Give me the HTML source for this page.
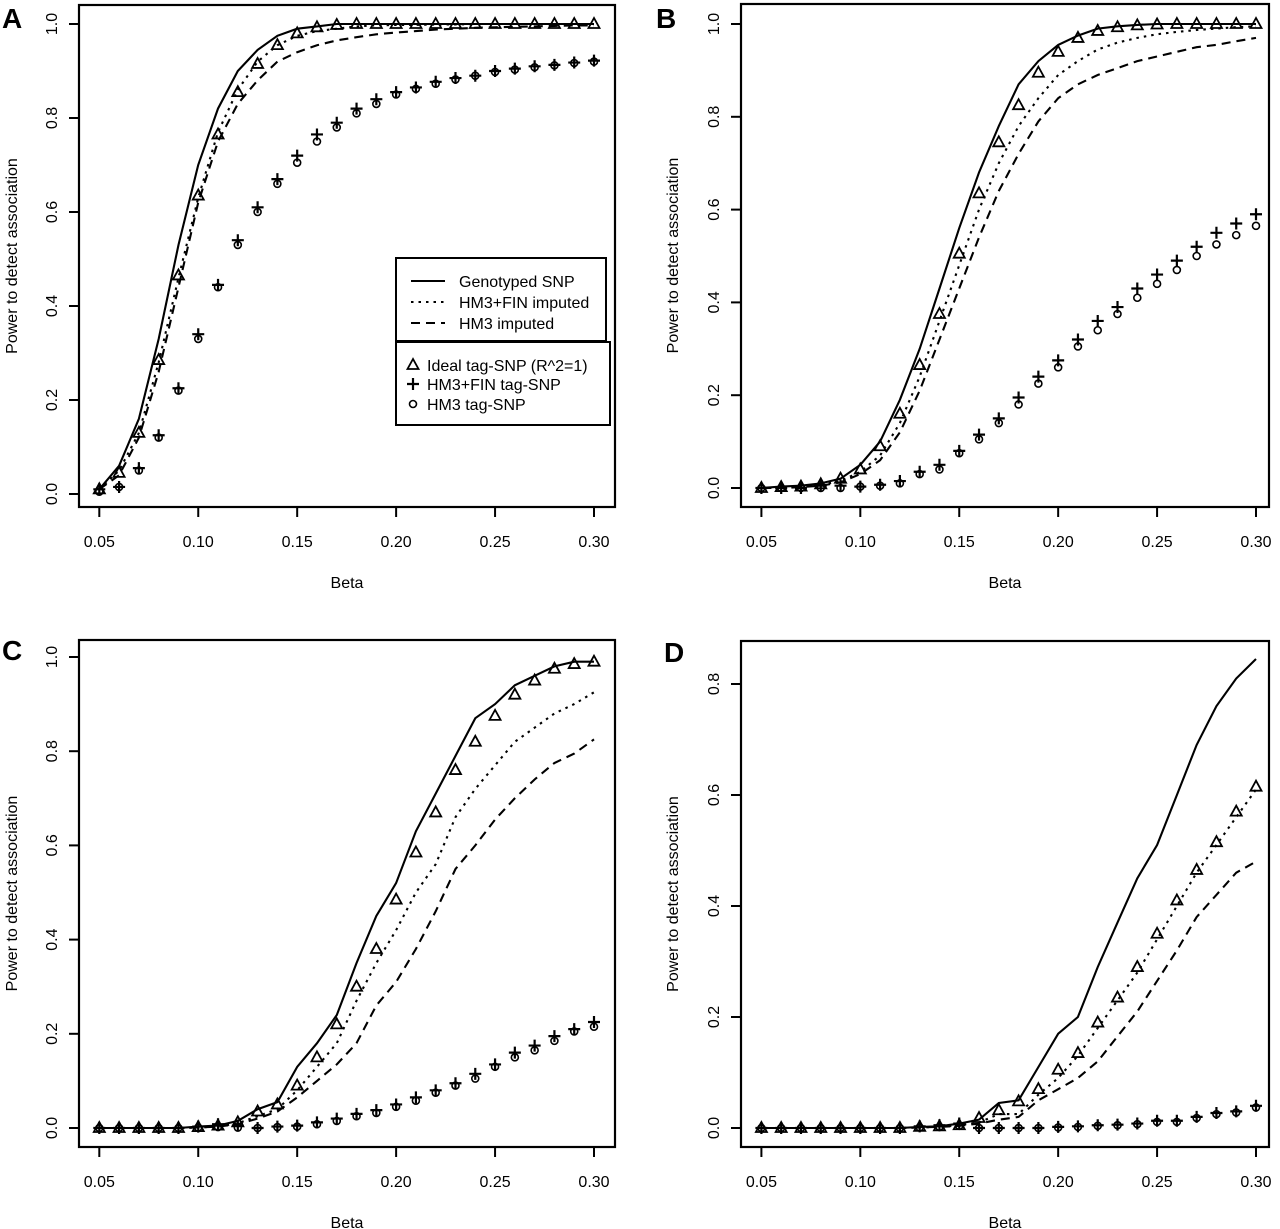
<!DOCTYPE html>
<html><head><meta charset="utf-8"><style>
html,body{margin:0;padding:0;background:#fff;}
svg{display:block;font-family:"Liberation Sans",Arial,sans-serif;}
</style></head><body>
<svg id="fig" width="1280" height="1229" viewBox="0 0 1280 1229" xmlns="http://www.w3.org/2000/svg"></svg>
<script>
const betas = [0.05,0.06,0.07,0.08,0.09,0.10,0.11,0.12,0.13,0.14,0.15,0.16,0.17,0.18,0.19,0.20,0.21,0.22,0.23,0.24,0.25,0.26,0.27,0.28,0.29,0.30];
const xTickLabels = ["0.05","0.10","0.15","0.20","0.25","0.30"];
const xTickValues = [0.05,0.10,0.15,0.20,0.25,0.30];
const yTicksFull = [0,0.2,0.4,0.6,0.8,1.0];
const yTickLabelsFull = ["0.0","0.2","0.4","0.6","0.8","1.0"];
const yTicksD = [0,0.2,0.4,0.6,0.8];
const yTickLabelsD = ["0.0","0.2","0.4","0.6","0.8"];

// Panel A
const aGenotyped = [0.01,0.06,0.16,0.33,0.53,0.70,0.82,0.90,0.945,0.975,0.99,0.995,1,1,1,1,1,1,1,1,1,1,1,1,1,1];
const aFinImputed = [0.01,0.05,0.13,0.28,0.46,0.63,0.77,0.86,0.92,0.955,0.975,0.985,0.99,0.995,0.997,0.998,0.998,0.999,0.999,1,1,1,1,1,1,1];
const aHm3Imputed = [0.01,0.04,0.12,0.26,0.44,0.62,0.75,0.83,0.88,0.92,0.94,0.955,0.965,0.972,0.978,0.982,0.985,0.988,0.99,0.992,0.993,0.994,0.995,0.996,0.997,0.997];
const aIdeal = [0.01,0.045,0.13,0.285,0.465,0.635,0.765,0.855,0.915,0.955,0.98,0.993,0.998,1,1,1,1,1,1,1,1,1,1,1,1,1];
const aFinTag = [0.01,0.015,0.055,0.125,0.225,0.34,0.445,0.54,0.61,0.67,0.72,0.765,0.79,0.82,0.84,0.855,0.865,0.877,0.885,0.89,0.9,0.905,0.91,0.913,0.918,0.922];
const aHm3Tag = [0.005,0.015,0.05,0.12,0.22,0.33,0.44,0.53,0.60,0.66,0.705,0.75,0.78,0.81,0.83,0.85,0.862,0.873,0.882,0.89,0.898,0.903,0.908,0.912,0.917,0.92];
// Panel B
const bGenotyped = [0,0.003,0.005,0.01,0.02,0.05,0.10,0.19,0.30,0.43,0.56,0.68,0.78,0.87,0.92,0.955,0.975,0.99,0.995,0.998,1,1,1,1,1,1];
const bFinImputed = [0,0,0.003,0.007,0.015,0.035,0.07,0.14,0.24,0.36,0.48,0.60,0.70,0.78,0.84,0.89,0.92,0.945,0.96,0.97,0.978,0.983,0.987,0.99,0.993,0.995];
const bHm3Imputed = [0,0,0.002,0.005,0.012,0.03,0.06,0.12,0.21,0.32,0.43,0.54,0.64,0.72,0.79,0.84,0.87,0.89,0.905,0.92,0.93,0.94,0.95,0.955,0.963,0.97];
const bIdeal = [0,0.002,0.003,0.008,0.02,0.04,0.09,0.16,0.265,0.375,0.505,0.635,0.745,0.825,0.895,0.94,0.97,0.985,0.993,0.997,0.999,1,1,1,1,1];
const bFinTag = [0,0,0,0.005,0.005,0.003,0.007,0.015,0.035,0.05,0.08,0.115,0.15,0.195,0.24,0.275,0.32,0.36,0.39,0.43,0.46,0.49,0.52,0.55,0.57,0.59];
const bHm3Tag = [0,0,0,0,0,0.003,0.005,0.01,0.03,0.04,0.075,0.105,0.14,0.18,0.225,0.26,0.305,0.34,0.375,0.41,0.44,0.47,0.5,0.525,0.545,0.565];
// Panel C
const cGenotyped = [0,0,0,0,0,0.003,0.005,0.015,0.04,0.055,0.13,0.18,0.24,0.35,0.45,0.52,0.63,0.71,0.79,0.87,0.90,0.94,0.96,0.98,0.99,0.99];
const cFinImputed = [0,0,0,0,0,0.001,0.003,0.01,0.025,0.04,0.08,0.13,0.18,0.27,0.35,0.42,0.50,0.56,0.66,0.72,0.77,0.82,0.85,0.88,0.90,0.925];
const cHm3Imputed = [0,0,0,0,0,0.001,0.003,0.008,0.02,0.035,0.065,0.10,0.135,0.18,0.26,0.31,0.38,0.46,0.55,0.60,0.655,0.70,0.74,0.775,0.795,0.825];
const cIdeal = [0,0,0,0,0,0.002,0.005,0.012,0.035,0.05,0.09,0.15,0.22,0.30,0.38,0.485,0.585,0.67,0.76,0.82,0.875,0.92,0.95,0.975,0.985,0.99];
const cFinTag = [0,0,0,0,0,0.003,0.008,0.005,0,0.003,0.005,0.012,0.02,0.03,0.038,0.05,0.065,0.08,0.095,0.115,0.135,0.16,0.175,0.195,0.21,0.225];
const cHm3Tag = [0,0,0,0,0,0.001,0.002,0.001,0,0.002,0.003,0.008,0.015,0.025,0.032,0.045,0.058,0.075,0.09,0.105,0.13,0.15,0.165,0.185,0.205,0.215];
// Panel D
const dGenotyped = [0,0,0,0,0,0,0,0,0.002,0.003,0.008,0.015,0.045,0.05,0.11,0.17,0.20,0.29,0.37,0.45,0.51,0.60,0.69,0.76,0.81,0.845];
const dFinImputed = [0,0,0,0,0,0,0,0,0.001,0.002,0.005,0.01,0.025,0.025,0.06,0.09,0.13,0.18,0.23,0.28,0.34,0.40,0.46,0.51,0.56,0.61];
const dHm3Imputed = [0,0,0,0,0,0,0,0,0.001,0.002,0.004,0.008,0.015,0.02,0.05,0.07,0.09,0.12,0.165,0.21,0.265,0.32,0.38,0.42,0.46,0.48];
const dIdeal = [0,0,0,0,0,0,0,0,0.002,0.003,0.005,0.018,0.032,0.048,0.07,0.105,0.135,0.19,0.235,0.29,0.35,0.41,0.465,0.515,0.57,0.615];
const dFinTag = [0,0,0,0,0,0,0,0,0.003,0.005,0.008,0,0,0,0,0.002,0.003,0.005,0.006,0.008,0.013,0.013,0.02,0.027,0.03,0.04];
const dHm3Tag = [0,0,0,0,0,0,0,0,0.001,0.002,0.004,0,0,0,0,0.001,0.002,0.004,0.005,0.007,0.011,0.011,0.018,0.025,0.028,0.037];

const NS = "http://www.w3.org/2000/svg";
const svg = document.getElementById('fig');
function mk(tag, attrs, parent){
  const e = document.createElementNS(NS, tag);
  for (const k in attrs) e.setAttribute(k, attrs[k]);
  (parent||svg).appendChild(e);
  return e;
}

const panels = [
  {id:'a', letter:'A', lx:2, ly:28, box:[79,5,615,507], x0:99.3, x1:594, y0:494, yv1:1.0, yp1:24, yTicks:yTicksFull, yLabels:yTickLabelsFull, ylabX:12, tickLabX:51, series:[aGenotyped,aFinImputed,aHm3Imputed,aIdeal,aFinTag,aHm3Tag], legend:true},
  {id:'b', letter:'B', lx:656, ly:28, box:[741,4,1269,507], x0:761.4, x1:1256, y0:488, yv1:1.0, yp1:24, yTicks:yTicksFull, yLabels:yTickLabelsFull, ylabX:673, tickLabX:713, series:[bGenotyped,bFinImputed,bHm3Imputed,bIdeal,bFinTag,bHm3Tag]},
  {id:'c', letter:'C', lx:2, ly:660, box:[79,640,615,1147], x0:99.3, x1:594, y0:1128, yv1:1.0, yp1:657, yTicks:yTicksFull, yLabels:yTickLabelsFull, ylabX:12, tickLabX:51, series:[cGenotyped,cFinImputed,cHm3Imputed,cIdeal,cFinTag,cHm3Tag]},
  {id:'d', letter:'D', lx:664, ly:662, box:[741,641,1269,1147], x0:761.4, x1:1256, y0:1128, yv1:0.8, yp1:684, yTicks:yTicksD, yLabels:yTickLabelsD, ylabX:673, tickLabX:713, series:[dGenotyped,dFinImputed,dHm3Imputed,dIdeal,dFinTag,dHm3Tag]}
];

function tri(g,x,y){
  const p = mk('polygon',{points:`${x},${y-6} ${x-5.5},${y+4} ${x+5.5},${y+4}`,fill:'none',stroke:'#000','stroke-width':1.8},g);
  
  
}
function plus(g,x,y){
  const p = mk('path',{d:`M${x-6},${y}H${x+6}M${x},${y-6}V${y+6}`,stroke:'#000','stroke-width':2.2,fill:'none'},g);
  
  
}
function circ(g,x,y){
  const c = mk('circle',{cx:x,cy:y,r:3.5,fill:'none',stroke:'#000','stroke-width':1.6},g);
  
  
}

panels.forEach(p=>{
  const g = mk('g',{});
  
  
  const sx = v => p.x0 + (v-0.05)/0.25*(p.x1-p.x0);
  const sy = v => p.y0 - v/p.yv1*(p.y0-p.yp1);
  const [L,T,R,B] = p.box;
  const letter = mk('text',{x:p.lx,y:p.ly,'font-size':28,'font-weight':'bold'},g);
  letter.textContent = p.letter;
  
  
  const box = mk('rect',{x:L,y:T,width:R-L,height:B-T,fill:'none',stroke:'#000','stroke-width':2.2},g);
  
  
  xTickValues.forEach((v,i)=>{
    const x = sx(v);
    mk('line',{x1:x,y1:B,x2:x,y2:B+10,stroke:'#000','stroke-width':2},g);
    const t = mk('text',{x:x,y:B+40,'font-size':16,'text-anchor':'middle'},g);
    t.textContent = xTickLabels[i];
    
    
  });
  const xt = mk('text',{x:(L+R)/2,y:B+81,'font-size':16,'text-anchor':'middle'},g);
  xt.textContent = 'Beta';
  
  
  p.yTicks.forEach((v,i)=>{
    const y = sy(v);
    mk('line',{x1:L,y1:y,x2:L-10,y2:y,stroke:'#000','stroke-width':2},g);
    const t = mk('text',{x:p.tickLabX,y:y+6,'font-size':16,'text-anchor':'middle',transform:`rotate(-90 ${p.tickLabX} ${y})`},g);
    t.textContent = p.yLabels[i];
    
    
  });
  const yc = (T+B)/2;
  const yt = mk('text',{x:p.ylabX,y:yc+5,'font-size':16,'text-anchor':'middle',transform:`rotate(-90 ${p.ylabX} ${yc})`},g);
  yt.textContent = 'Power to detect association';
  
  
  const styles = [{d:null,n:'genotyped-snp-line'},{d:'2.5,5',n:'hm3-fin-imputed-line'},{d:'9,6',n:'hm3-imputed-line'}];
  styles.forEach((st,si)=>{
    const pts = betas.map((b,i)=>sx(b).toFixed(1)+','+sy(p.series[si][i]).toFixed(1)).join(' ');
    const attrs = {points:pts,fill:'none',stroke:'#000','stroke-width':2.1};
    if (st.d) attrs['stroke-dasharray']=st.d;
    const pl = mk('polyline',attrs,g);
    
    
  });
  betas.forEach((b,i)=>{
    tri(g,sx(b),sy(p.series[3][i]));
    circ(g,sx(b),sy(p.series[5][i]));
    plus(g,sx(b),sy(p.series[4][i]));
  });
  if (p.legend){
    const lg = mk('g',{},g);
    
    
    mk('rect',{x:396,y:258,width:210,height:83,fill:'#fff',stroke:'#000','stroke-width':2},lg);
    mk('rect',{x:396,y:342,width:214,height:83,fill:'#fff',stroke:'#000','stroke-width':2},lg);
    const ln = [['Genotyped SNP',null,281],['HM3+FIN imputed','2.5,5',302],['HM3 imputed','9,6',323]];
    ln.forEach(r=>{
      const a={x1:411,y1:r[2],x2:445,y2:r[2],stroke:'#000','stroke-width':2.1};
      if(r[1]) a['stroke-dasharray']=r[1];
      const l = mk('line',a,lg);
      
      
      const t = mk('text',{x:459,y:r[2]+6,'font-size':16},lg);
      t.textContent=r[0];
      
      
    });
    tri(lg,413,365); plus(lg,413,384); circ(lg,413,404);
    [['Ideal tag-SNP (R^2=1)',365],['HM3+FIN tag-SNP',384],['HM3 tag-SNP',404]].forEach(r=>{
      const t = mk('text',{x:427,y:r[1]+6,'font-size':16},lg);
      t.textContent=r[0];
      
      
    });
  }
});
</script>
</body></html>
